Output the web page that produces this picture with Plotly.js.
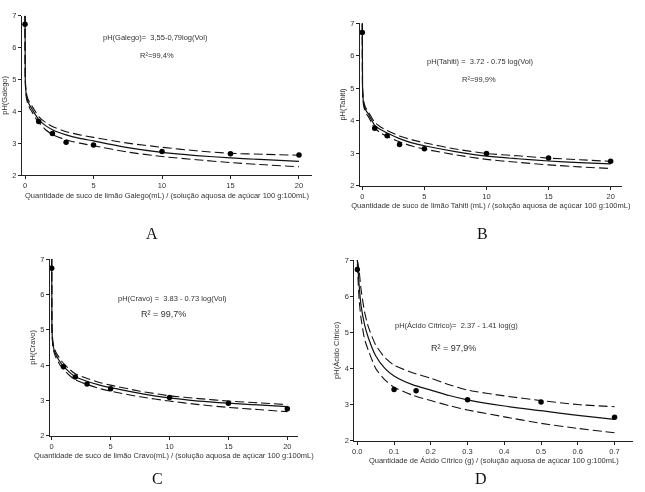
<!DOCTYPE html>
<html>
<head>
<meta charset="utf-8">
<script src="https://cdn.plot.ly/plotly-3.0.1.min.js"></script>
<style>
html,body{margin:0;padding:0;background:#fff}
#chart{width:645px;height:492px;will-change:transform;-webkit-font-smoothing:antialiased}
</style>
</head>
<body>
<div id="chart"></div>
<script>
// ---- observed data ----
const volX = [0, 1, 2, 3, 5, 10, 15, 20];
const phGalego = [6.73, 3.68, 3.30, 3.03, 2.94, 2.74, 2.67, 2.63];
const phTahiti = [6.72, 3.77, 3.54, 3.27, 3.14, 2.99, 2.85, 2.75];
const phCravo  = [6.74, 3.95, 3.66, 3.46, 3.33, 3.08, 2.92, 2.76];
const citX = [0, 0.1, 0.16, 0.3, 0.5, 0.7];
const phCitrico = [6.74, 3.42, 3.38, 3.13, 3.07, 2.65];

// ---- fitted curves and bands ----
const fitX = [0, 0.02, 0.05, 0.1, 0.2, 0.35, 0.5, 0.75, 1, 1.5, 2, 3, 4, 5, 7.5, 10, 12.5, 15, 17.5, 20];
const fitGalego   = [7.0, 5.0, 4.7, 4.5, 4.32, 4.18, 4.08, 3.9, 3.74, 3.55, 3.42, 3.26, 3.15, 3.07, 2.86, 2.71, 2.61, 2.54, 2.48, 2.43];
const upGalego    = [7.0, 5.05, 4.78, 4.58, 4.4, 4.27, 4.17, 4.0, 3.83, 3.65, 3.52, 3.36, 3.26, 3.18, 3.0, 2.87, 2.76, 2.68, 2.65, 2.62];
const loGalego    = [7.0, 4.95, 4.62, 4.42, 4.24, 4.09, 3.99, 3.8, 3.66, 3.42, 3.27, 3.1, 3.0, 2.92, 2.72, 2.58, 2.48, 2.39, 2.32, 2.26];
const fitTahiti   = [7.0, 5.0, 4.75, 4.55, 4.4, 4.28, 4.2, 4.02, 3.86, 3.72, 3.62, 3.45, 3.32, 3.23, 3.05, 2.91, 2.83, 2.76, 2.71, 2.67];
const upTahiti    = [7.0, 5.05, 4.82, 4.62, 4.47, 4.35, 4.27, 4.1, 3.95, 3.8, 3.7, 3.53, 3.41, 3.32, 3.13, 2.99, 2.92, 2.85, 2.8, 2.75];
const loTahiti    = [7.0, 4.95, 4.68, 4.48, 4.33, 4.2, 4.12, 3.94, 3.77, 3.62, 3.52, 3.35, 3.22, 3.13, 2.95, 2.81, 2.72, 2.64, 2.58, 2.53];
const fitCravo    = [7.0, 5.1, 4.8, 4.6, 4.43, 4.3, 4.2, 4.07, 3.97, 3.8, 3.67, 3.54, 3.44, 3.36, 3.2, 3.07, 2.98, 2.92, 2.87, 2.82];
const upCravo     = [7.0, 5.15, 4.87, 4.67, 4.5, 4.37, 4.28, 4.15, 4.05, 3.88, 3.75, 3.62, 3.51, 3.43, 3.26, 3.13, 3.05, 2.98, 2.93, 2.88];
const loCravo     = [7.0, 5.05, 4.73, 4.53, 4.36, 4.22, 4.12, 3.98, 3.88, 3.71, 3.58, 3.45, 3.34, 3.26, 3.1, 2.98, 2.88, 2.8, 2.74, 2.68];
const fitCitX     = [0, 0.005, 0.01, 0.02, 0.03, 0.05, 0.075, 0.1, 0.15, 0.2, 0.25, 0.3, 0.4, 0.5, 0.6, 0.7];
const fitCitrico  = [7.0, 6.3, 5.75, 5.2, 4.85, 4.35, 4.0, 3.79, 3.55, 3.40, 3.25, 3.13, 2.96, 2.83, 2.70, 2.59];
const upCitrico   = [7.0, 6.7, 6.2, 5.55, 5.15, 4.65, 4.3, 4.09, 3.88, 3.73, 3.55, 3.40, 3.24, 3.11, 3.0, 2.94];
const loCitrico   = [6.9, 5.9, 5.4, 4.8, 4.5, 4.0, 3.68, 3.48, 3.26, 3.11, 2.97, 2.85, 2.66, 2.48, 2.34, 2.22];

// ---- text ----
const volTicks = [0, 5, 10, 15, 20];
const citTicks = [0, 0.1, 0.2, 0.3, 0.4, 0.5, 0.6, 0.7];
const citTickText = ['0.0', '0.1', '0.2', '0.3', '0.4', '0.5', '0.6', '0.7'];
const yTicks = [2, 3, 4, 5, 6, 7];
const xTitles = [
  'Quantidade de suco de limão Galego(mL) / (solução aquosa de açúcar 100 g:100mL)',
  'Quantidade de suco de limão Tahiti (mL) / (solução aquosa de açúcar 100 g:100mL)',
  'Quantidade de suco de limão Cravo(mL) / (solução aquosa de açúcar 100 g:100mL)',
  'Quantidade de Ácido Cítrico (g) / (solução aquosa de açúcar 100 g:100mL)'
];
const yTitles = ['pH(Galego)', 'pH(Tahiti)', 'pH(Cravo)', 'pH(Ácido Cítrico)'];
const equations = [
  'pH(Galego)=\u00a0\u00a03,55-0,79log(Vol)',
  'pH(Tahiti) =\u00a0\u00a03.72 - 0.75 log(Vol)',
  'pH(Cravo) =\u00a0\u00a03.83 - 0.73 log(Vol)',
  'pH(Ácido Cítrico)=\u00a0\u00a02.37 - 1.41 log(g)'
];
const r2Labels = ['R²=99,4%', 'R²=99,9%', 'R² = 99,7%', 'R² = 97,9%'];
const panelLetters = ['A', 'B', 'C', 'D'];

const W = 645, H = 492;
const px = v => v / W;
const py = v => 1 - v / H;

const FONT = 'Liberation Sans, Arial, sans-serif';
const TXT = '#333';
const LINE = '#222';

function lineTrace(x, y, xa, ya, dash) {
  return {x: x, y: y, xaxis: xa, yaxis: ya, mode: 'lines', type: 'scatter',
    line: {color: '#111', width: dash ? 1.1 : 1.2, dash: dash ? '9px,4px' : 'solid', shape: 'spline', smoothing: 0.6},
    hoverinfo: 'skip', showlegend: false};
}
function ptTrace(x, y, xa, ya) {
  return {x: x, y: y, xaxis: xa, yaxis: ya, mode: 'markers', type: 'scatter',
    marker: {color: '#000', size: 5.5}, showlegend: false};
}

const traces = [
  lineTrace(fitX, upGalego, 'x', 'y', true), lineTrace(fitX, loGalego, 'x', 'y', true),
  lineTrace(fitX, fitGalego, 'x', 'y', false), ptTrace(volX, phGalego, 'x', 'y'),
  lineTrace(fitX, upTahiti, 'x2', 'y2', true), lineTrace(fitX, loTahiti, 'x2', 'y2', true),
  lineTrace(fitX, fitTahiti, 'x2', 'y2', false), ptTrace(volX, phTahiti, 'x2', 'y2'),
  lineTrace(fitX, upCravo, 'x3', 'y3', true), lineTrace(fitX, loCravo, 'x3', 'y3', true),
  lineTrace(fitX, fitCravo, 'x3', 'y3', false), ptTrace(volX, phCravo, 'x3', 'y3'),
  lineTrace(fitCitX, upCitrico, 'x4', 'y4', true), lineTrace(fitCitX, loCitrico, 'x4', 'y4', true),
  lineTrace(fitCitX, fitCitrico, 'x4', 'y4', false), ptTrace(citX, phCitrico, 'x4', 'y4')
];

// panel geometry in pixels: [left, right, top, bottom], x range
const panels = [
  {l: 22, r: 312, t: 15.7, b: 175, xr: [-0.22, 20.95], ticks: volTicks, tt: null},
  {l: 360, r: 621.7, t: 23.3, b: 185.7, xr: [-0.185, 20.89], ticks: volTicks, tt: null},
  {l: 50, r: 297.7, t: 259, b: 435.7, xr: [-0.144, 20.88], ticks: volTicks, tt: null},
  {l: 354.3, r: 633.3, t: 260, b: 440.7, xr: [-0.0082, 0.751], ticks: citTicks, tt: citTickText}
];

const layout = {
  width: W, height: H, margin: {l: 0, r: 0, t: 0, b: 0},
  paper_bgcolor: '#fff', plot_bgcolor: 'rgba(0,0,0,0)', showlegend: false,
  font: {family: FONT, size: 7.5, color: TXT},
  annotations: []
};

panels.forEach((p, i) => {
  const s = i === 0 ? '' : String(i + 1);
  layout['xaxis' + s] = {
    domain: [px(p.l), px(p.r)], range: p.xr, anchor: 'y' + s,
    showline: true, linecolor: LINE, linewidth: 1, showgrid: false, zeroline: false,
    ticks: 'outside', ticklen: 3, tickcolor: LINE, tickwidth: 1,
    tickmode: 'array', tickvals: p.ticks, ticktext: p.tt || p.ticks.map(String),
    tickfont: {family: FONT, size: 7.5, color: TXT},
    title: {text: xTitles[i], font: {family: FONT, size: 7.5, color: TXT}, standoff: 3}
  };
  layout['yaxis' + s] = {
    domain: [py(p.b), py(p.t)], range: [2, 7], anchor: 'x' + s,
    showline: true, linecolor: LINE, linewidth: 1, showgrid: false, zeroline: false,
    ticks: 'outside', ticklen: 3, tickcolor: LINE, tickwidth: 1,
    tickmode: 'array', tickvals: yTicks,
    tickfont: {family: FONT, size: 7.5, color: TXT},
    title: {text: yTitles[i], font: {family: FONT, size: 7.5, color: TXT}, standoff: 3}
  };
});

const eqPos = [[155, 37], [480, 62], [172, 298], [457, 325]];
const r2Pos = [[157, 56], [479, 79], [163, 314], [453, 348]];
const r2Size = [7.5, 7.5, 9, 9];
const letterPos = [[152, 233], [482, 233], [157, 478], [481, 478]];

for (let i = 0; i < 4; i++) {
  layout.annotations.push({xref: 'paper', yref: 'paper', x: px(eqPos[i][0]), y: py(eqPos[i][1]),
    text: equations[i], showarrow: false, xanchor: 'center', yanchor: 'middle',
    font: {family: FONT, size: 7.5, color: TXT}});
  layout.annotations.push({xref: 'paper', yref: 'paper', x: px(r2Pos[i][0]), y: py(r2Pos[i][1]),
    text: r2Labels[i], showarrow: false, xanchor: 'center', yanchor: 'middle',
    font: {family: FONT, size: r2Size[i], color: TXT}});
  layout.annotations.push({xref: 'paper', yref: 'paper', x: px(letterPos[i][0]), y: py(letterPos[i][1]),
    text: panelLetters[i], showarrow: false, xanchor: 'center', yanchor: 'middle',
    font: {family: 'Liberation Serif, Times New Roman, serif', size: 16, color: '#111'}});
}

Plotly.newPlot('chart', traces, layout, {staticPlot: true, displayModeBar: false});
</script>
</body>
</html>
